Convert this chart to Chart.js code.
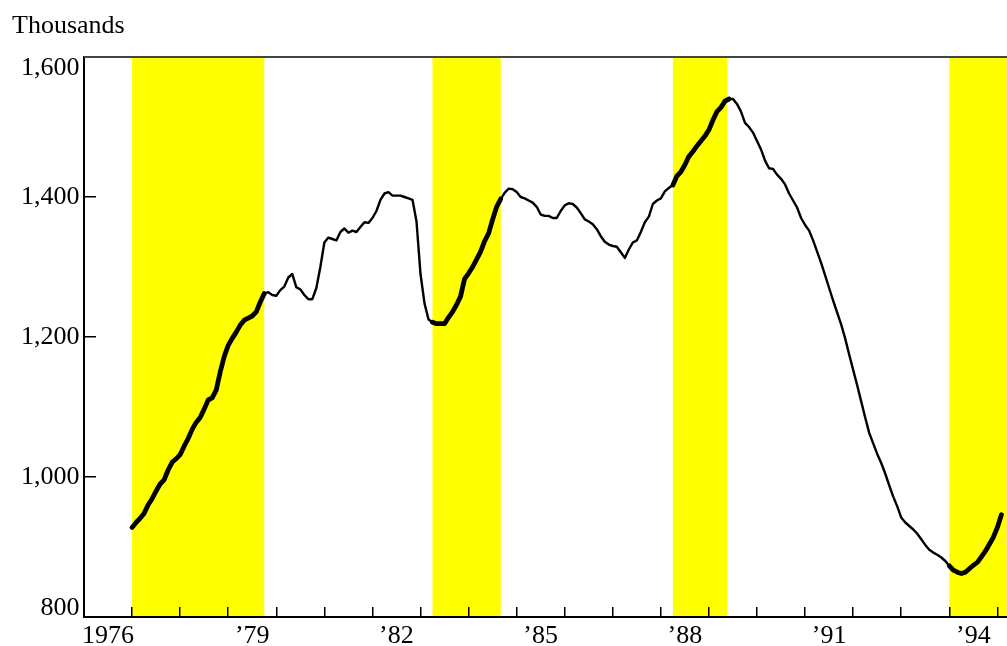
<!DOCTYPE html>
<html>
<head>
<meta charset="utf-8">
<script src="https://cdn.jsdelivr.net/npm/chart.js@4"></script>
<style>
  body { margin: 0; background: #fff; }
</style>
</head>
<body>
<canvas id="chart" width="1007" height="646"></canvas>
<script>
// Monthly values (thousands), Jan 1977 through Feb 1995
const firstYear = 1977;
const values = [
  928, 935, 941, 948, 960, 969, 980, 990, 996, 1010, 1021, 1026,        // 1977
  1032, 1044, 1055, 1068, 1078, 1085, 1097, 1110, 1113, 1124, 1150, 1172, // 1978
  1188, 1198, 1207, 1217, 1224, 1227, 1230, 1236, 1250, 1262, 1264, 1260, // 1979
  1259, 1267, 1272, 1285, 1290, 1271, 1268, 1260, 1254, 1254, 1270, 1300, // 1980
  1335, 1342, 1340, 1338, 1350, 1355, 1349, 1352, 1350, 1357, 1364, 1363, // 1981
  1370, 1380, 1396, 1405, 1407, 1402, 1402, 1402, 1400, 1398, 1396, 1365, // 1982
  1290, 1248, 1225, 1221, 1219, 1219, 1219, 1228, 1236, 1246, 1258, 1283, // 1983
  1291, 1300, 1311, 1322, 1337, 1348, 1368, 1386, 1397, 1406, 1412, 1411, // 1984
  1407, 1400, 1398, 1395, 1392, 1386, 1375, 1373, 1373, 1370, 1370, 1380, // 1985
  1388, 1391, 1390, 1385, 1377, 1368, 1365, 1361, 1354, 1344, 1336, 1332, // 1986
  1330, 1329, 1321, 1313, 1325, 1335, 1338, 1350, 1364, 1372, 1390, 1395, // 1987
  1398, 1408, 1413, 1417, 1430, 1436, 1446, 1458, 1465, 1473, 1480, 1487, // 1988
  1496, 1510, 1522, 1528, 1537, 1540, 1540, 1533, 1522, 1506, 1500, 1492, // 1989
  1480, 1468, 1452, 1441, 1440, 1432, 1426, 1418, 1405, 1395, 1385, 1370, // 1990
  1360, 1352, 1338, 1322, 1306, 1288, 1270, 1252, 1235, 1218, 1198, 1175, // 1991
  1153, 1131, 1108, 1085, 1063, 1048, 1033, 1020, 1005, 988, 972, 958,    // 1992
  942, 935, 930, 925, 919, 911, 903, 896, 892, 889, 885, 880,             // 1993
  873, 867, 864, 862, 864, 869, 874, 878, 886, 894, 904, 914,             // 1994
  928, 946                                                                // 1995
];

// Shaded periods, in decimal years
const bandStarts = [1977.0, 1983.25, 1988.25, 1994.0];
const bandEnds = [1979.75, 1984.67, 1989.38, 1995.2];

const yTickLabels = ['800', '1,000', '1,200', '1,400', '1,600'];
const xLabelYears = [1976, 1979, 1982, 1985, 1988, 1991, 1994];
const xLabels = ['1976', '\u201979', '\u201982', '\u201985', '\u201988', '\u201991', '\u201994'];

const FONT = '"Liberation Serif", "Times New Roman", serif';

const points = values.map((v, i) => ({ x: firstYear + i / 12, y: v }));

function inBand(x) {
  return bandStarts.some((s, i) => x >= s && x <= bandEnds[i]);
}

// yellow bands behind the axes, labels and frame on top
const decorPlugin = {
  id: 'decor',
  beforeDraw(chart) {
    const { ctx, chartArea, scales: { x } } = chart;
    ctx.save();
    ctx.fillStyle = '#ffff00';
    bandStarts.forEach((s, i) => {
      const x0 = x.getPixelForValue(s);
      const x1 = Math.min(x.getPixelForValue(bandEnds[i]), chartArea.right);
      ctx.fillRect(x0, chartArea.top, x1 - x0, chartArea.bottom - chartArea.top);
    });
    ctx.restore();
  },
  afterDraw(chart) {
    const { ctx, chartArea, scales: { y } } = chart;
    ctx.save();
    // top frame line
    ctx.strokeStyle = '#444';
    ctx.lineWidth = 2;
    ctx.beginPath();
    ctx.moveTo(chartArea.left, chartArea.top);
    ctx.lineTo(chartArea.right, chartArea.top);
    ctx.stroke();

    ctx.font = '26px ' + FONT;
    ctx.fillStyle = '#000';
    ctx.textAlign = 'right';
    ctx.textBaseline = 'middle';
    y.ticks.forEach((t, i) => {
      let py = y.getPixelForValue(t.value);
      if (i === 0) py -= 9;
      if (i === y.ticks.length - 1) py += 11;
      ctx.fillText(yTickLabels[i], y.right - 4.5, py);
    });

    ctx.textAlign = 'left';
    ctx.textBaseline = 'alphabetic';
    ctx.fillText('Thousands', 12, 33);
    ctx.restore();
  }
};

new Chart(document.getElementById('chart'), {
  type: 'line',
  data: {
    datasets: [{
      data: points,
      borderColor: '#000',
      borderWidth: 2.4,
      borderJoinStyle: 'round',
      borderCapStyle: 'round',
      pointRadius: 0,
      tension: 0,
      segment: {
        borderWidth: ctx => inBand((ctx.p0.parsed.x + ctx.p1.parsed.x) / 2) ? 4.8 : 2.4
      }
    }]
  },
  options: {
    responsive: false,
    animation: false,
    devicePixelRatio: 1,
    layout: { padding: { top: 57, left: 0, right: 0, bottom: 0 } },
    plugins: {
      legend: { display: false },
      tooltip: { enabled: false }
    },
    scales: {
      x: {
        type: 'linear',
        min: 1976,
        max: 1995.2,
        afterFit: s => { s.height = 29; s.paddingLeft = 0; s.paddingRight = 0; },
        border: { display: true, color: '#000', width: 2 },
        grid: { drawOnChartArea: false, drawTicks: true, tickLength: -10, color: '#000', lineWidth: 1.5 },
        ticks: {
          stepSize: 1,
          includeBounds: false,
          autoSkip: false,
          maxRotation: 0,
          minRotation: 0,
          labelOffset: 24,
          padding: 14,
          color: '#000',
          font: { family: FONT, size: 26 },
          callback: v => {
            const i = xLabelYears.indexOf(v);
            return i >= 0 ? xLabels[i] : '';
          }
        }
      },
      y: {
        min: 800,
        max: 1600,
        afterFit: s => { s.width = 84; },
        border: { display: true, color: '#000', width: 2 },
        grid: { drawOnChartArea: false, drawTicks: true, tickLength: -12, color: '#000', lineWidth: 1.5 },
        ticks: { stepSize: 200, display: false }
      }
    }
  },
  plugins: [decorPlugin]
});
</script>
</body>
</html>
